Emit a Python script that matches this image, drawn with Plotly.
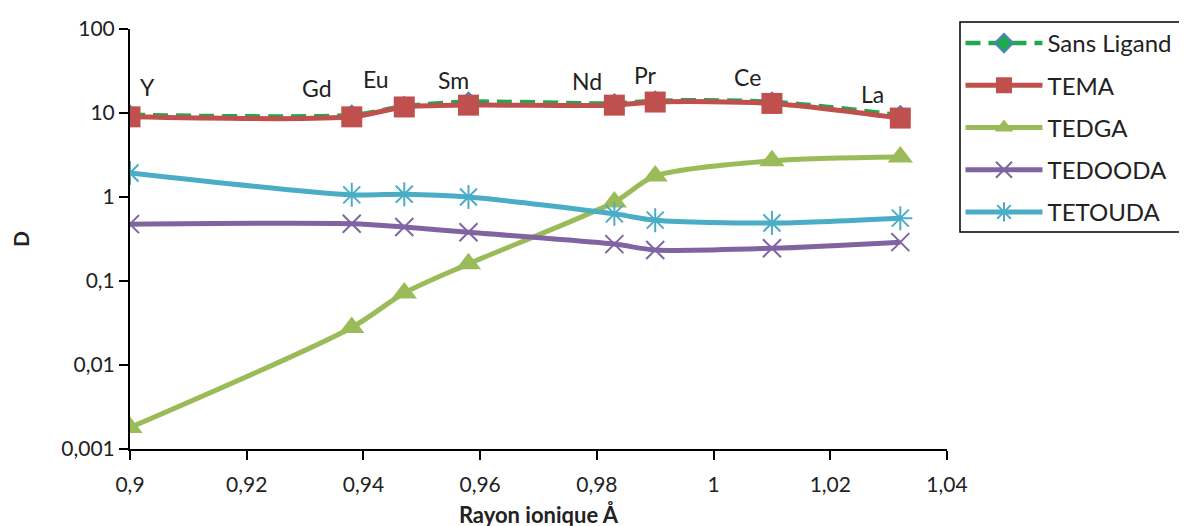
import math
import plotly.graph_objects as go

elements = ["Y", "Gd", "Eu", "Sm", "Nd", "Pr", "Ce", "La"]
rayon = [0.900, 0.938, 0.947, 0.958, 0.983, 0.990, 1.010, 1.032]

sans_ligand = [9.5, 9.5, 12.0, 13.6, 13.0, 14.0, 13.6, 9.4]
tema = [9.0, 9.0, 11.8, 12.4, 12.4, 13.5, 13.0, 8.7]
tedga = [0.0018, 0.028, 0.072, 0.16, 0.87, 1.78, 2.7, 3.0]
tedooda = [0.475, 0.48, 0.44, 0.38, 0.275, 0.234, 0.245, 0.29]
tetouda = [1.93, 1.06, 1.08, 1.0, 0.63, 0.53, 0.49, 0.56]

y_tickvals = [0.001, 0.01, 0.1, 1, 10, 100]
y_ticktext = ["0,001", "0,01", "0,1", "1", "10", "100"]
x_tickvals = [0.90, 0.92, 0.94, 0.96, 0.98, 1.00, 1.02, 1.04]
x_ticktext = ["0,9", "0,92", "0,94", "0,96", "0,98", "1", "1,02", "1,04"]

FONT = "Lato"
fig = go.Figure()

def add(name, y, color, symbol, size, dash="solid", width=5, mline=None):
    marker = dict(symbol=symbol, size=size, color=color)
    if mline is not None:
        marker["line"] = mline
    fig.add_trace(go.Scatter(
        x=rayon, y=y, name=name, mode="lines+markers", legendgroup=name,
        line=dict(color=color, width=width, dash=dash, shape="spline", smoothing=0.8),
        marker=marker,
    ))

add("Sans Ligand", sans_ligand, "#1DAA4F", "diamond", 14, dash="15px,8px", width=4.5,
    mline=dict(color="#4F81BD", width=2))
add("TEMA", tema, "#C0504D", "square", 21)
add("TEDGA", tedga, "#9BBB59", "triangle-up", 22)
add("TEDOODA", tedooda, "#8064A2", "x-thin-open", 18,
    mline=dict(color="#8064A2", width=2))
add("TETOUDA", tetouda, "#4BACC6", "asterisk-open", 20,
    mline=dict(color="#4BACC6", width=2))

# element labels placed relative to the Sans Ligand points
label_shift = [(17, 28), (-35, 27), (-28, 27), (-15, 22), (-27, 22), (-10, 26), (-24, 25), (-28, 21)]
for el, xv, yv, (dx, dy) in zip(elements, rayon, sans_ligand, label_shift):
    fig.add_annotation(x=xv, y=math.log10(yv), text=el, showarrow=False,
                       xshift=dx, yshift=dy, font=dict(family=FONT, size=23, color="#222"))

# legend frame
fig.add_shape(type="rect", xref="paper", yref="paper",
              x0=1.0159, x1=1.30, y0=0.5167, y1=1.0167,
              line=dict(color="black", width=1.5), fillcolor="white", layer="below")

fig.update_layout(
    width=1187, height=526,
    margin=dict(l=122, r=248, t=21, b=85, autoexpand=False),
    paper_bgcolor="white", plot_bgcolor="white",
    font=dict(family=FONT, size=21, color="#222"),
    showlegend=True,
    legend=dict(x=1.0165, y=1.019, xanchor="left", yanchor="top",
                borderwidth=0, bgcolor="rgba(0,0,0,0)",
                font=dict(family=FONT, size=24, color="#222"),
                tracegroupgap=8, itemwidth=77),
)
fig.update_xaxes(
    range=[0.9, 1.04], tickvals=x_tickvals, ticktext=x_ticktext, automargin=False,
    showline=True, linecolor="black", linewidth=2, ticks="outside",
    ticklen=9, tickwidth=2, tickcolor="black", showgrid=False, zeroline=False,
    ticklabelstandoff=7,
    title=dict(text="<b>Rayon ionique Å</b>", font=dict(family=FONT, size=22), standoff=12),
)
fig.update_yaxes(
    type="log", range=[-3, 2], tickvals=y_tickvals, ticktext=y_ticktext, automargin=False,
    showline=True, linecolor="black", linewidth=2, ticks="outside",
    ticklen=9, tickwidth=2, tickcolor="black", showgrid=False, zeroline=False,
    title=dict(text="<b>D</b>", font=dict(family=FONT, size=21), standoff=38),
)

fig.write_html("out.html")
